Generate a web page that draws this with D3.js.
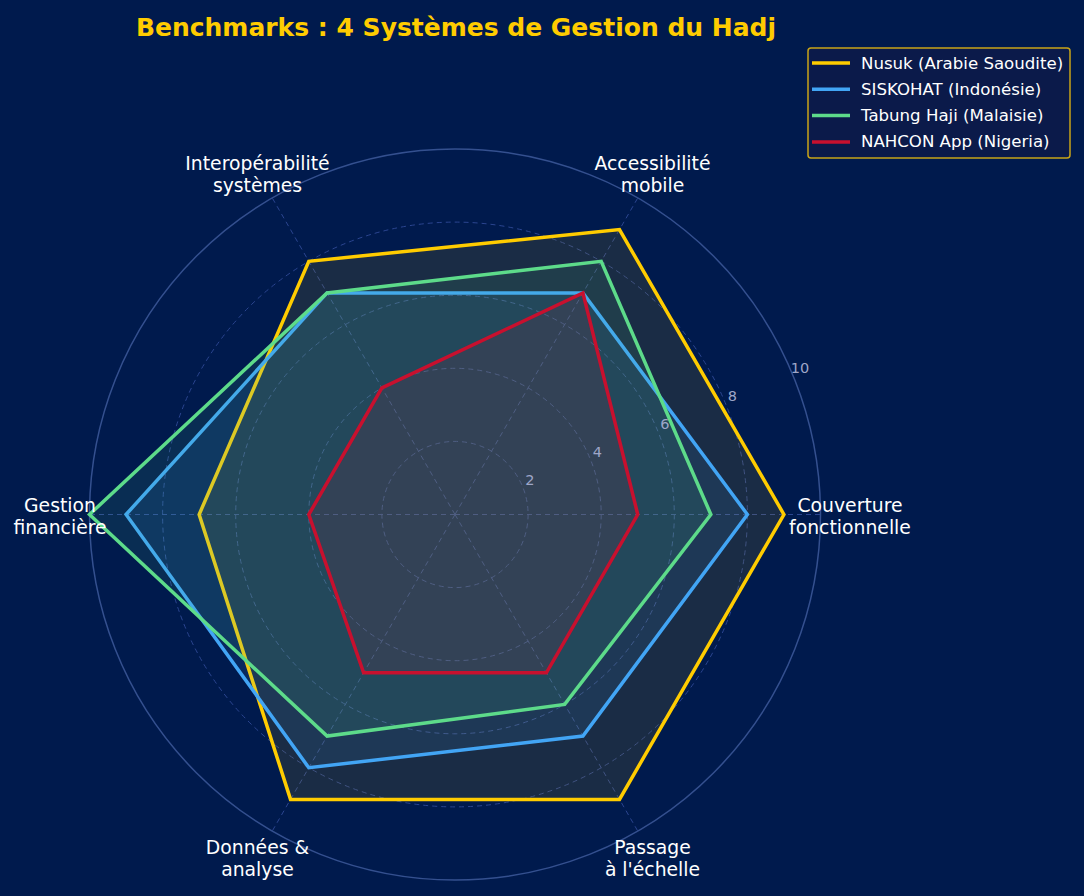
<!DOCTYPE html>
<html>
<head>
<meta charset="utf-8">
<script src="https://cdn.jsdelivr.net/npm/d3@7"></script>
<style>
  html, body { margin: 0; padding: 0; background: #001a4d; }
  svg { display: block; }
</style>
</head>
<body>
<svg id="chart" width="1084" height="896"></svg>
<script>
const categories = [
  ["Couverture", "fonctionnelle"],
  ["Accessibilité", "mobile"],
  ["Interopérabilité", "systèmes"],
  ["Gestion", "financière"],
  ["Données &", "analyse"],
  ["Passage", "à l'échelle"]
];
const seriesNames = ["Nusuk (Arabie Saoudite)", "SISKOHAT (Indonésie)", "Tabung Haji (Malaisie)", "NAHCON App (Nigeria)"];
const nusuk    = [9, 9, 8, 7, 9, 9];
const siskohat = [8, 7, 7, 9, 8, 7];
const tabung   = [7, 8, 7, 10, 7, 6];
const nahcon   = [5, 7, 4, 4, 5, 5];
const seriesColors = ["#ffcc00", "#42a5f5", "#5ddb8a", "#c8102e"];
const radialTicks = [2, 4, 6, 8, 10];
const titleText = "Benchmarks : 4 Systèmes de Gestion du Hadj";

const seriesValues = [nusuk, siskohat, tabung, nahcon];
const svg = d3.select("#chart");
const cx = 455, cy = 514.5, R = 365.5;
const font = "'DejaVu Sans', sans-serif";

const r = d3.scaleLinear().domain([0, 10]).range([0, R]);
const angle = d3.scaleLinear().domain([0, categories.length]).range([0, 2 * Math.PI]);
const px = (i, v) => cx + r(v) * Math.cos(angle(i));
const py = (i, v) => cy - r(v) * Math.sin(angle(i));

const g = svg.append("g");

g.selectAll("circle.grid").data(radialTicks.filter(t => t < 10)).join("circle")
  .attr("cx", cx).attr("cy", cy).attr("r", d => r(d))
  .attr("fill", "none").attr("stroke", "#2b4590").attr("stroke-width", 1)
  .attr("stroke-dasharray", "5,4");

g.selectAll("line.spoke").data(categories).join("line")
  .attr("x1", cx).attr("y1", cy)
  .attr("x2", (d, i) => px(i, 10)).attr("y2", (d, i) => py(i, 10))
  .attr("stroke", "#2b4590").attr("stroke-width", 1).attr("stroke-dasharray", "5,4");

g.append("circle").attr("cx", cx).attr("cy", cy).attr("r", r(10))
  .attr("fill", "none").attr("stroke", "#34508f").attr("stroke-width", 1.5);

const line = d3.line().x(d => d[0]).y(d => d[1]).curve(d3.curveLinearClosed);
seriesValues.forEach((vals, si) => {
  const pts = vals.map((v, i) => [px(i, v), py(i, v)]);
  g.append("path").attr("d", line(pts))
    .attr("fill", seriesColors[si]).attr("fill-opacity", 0.1).attr("stroke", "none");
  g.append("path").attr("d", line(pts))
    .attr("fill", "none").attr("stroke", seriesColors[si]).attr("stroke-width", 3.5)
    .attr("stroke-linejoin", "miter");
});

const la = 22.5 * Math.PI / 180;
g.selectAll("text.rt").data(radialTicks).join("text")
  .attr("x", d => cx + (r(d) + 9) * Math.cos(la) - 1)
  .attr("y", d => cy - (r(d) + 9) * Math.sin(la) - 3)
  .attr("text-anchor", "middle").attr("dominant-baseline", "central")
  .attr("font-family", font).attr("font-size", 14.5).attr("fill", "#9ea6c8")
  .text(d => d);

const labR = 395;
categories.forEach((lines, i) => {
  const x = cx + labR * Math.cos(angle(i));
  const y = cy - labR * Math.sin(angle(i)) + 2;
  const t = g.append("text").attr("text-anchor", "middle")
    .attr("font-family", font).attr("font-size", 18.8).attr("fill", "#ffffff");
  lines.forEach((ln, k) => {
    t.append("tspan").attr("x", x).attr("y", y + (k - (lines.length - 1) / 2) * 22)
      .attr("dominant-baseline", "central").text(ln);
  });
});

svg.append("text").attr("x", 456).attr("y", 36).attr("text-anchor", "middle")
  .attr("font-family", font).attr("font-weight", "bold").attr("font-size", 25)
  .attr("fill", "#ffcc00").text(titleText);

const lg = svg.append("g");
lg.append("rect").attr("x", 808).attr("y", 48).attr("width", 262).attr("height", 110)
  .attr("rx", 3).attr("fill", "#0b1a4a").attr("stroke", "#c8a418").attr("stroke-width", 1.5);
seriesNames.forEach((name, i) => {
  const y = 63 + i * 26.3;
  lg.append("line").attr("x1", 812).attr("x2", 850).attr("y1", y).attr("y2", y)
    .attr("stroke", seriesColors[i]).attr("stroke-width", 3.5);
  lg.append("text").attr("x", 861).attr("y", y).attr("dominant-baseline", "central")
    .attr("font-family", font).attr("font-size", 16.6).attr("fill", "#ffffff").text(name);
});
</script>
</body>
</html>
